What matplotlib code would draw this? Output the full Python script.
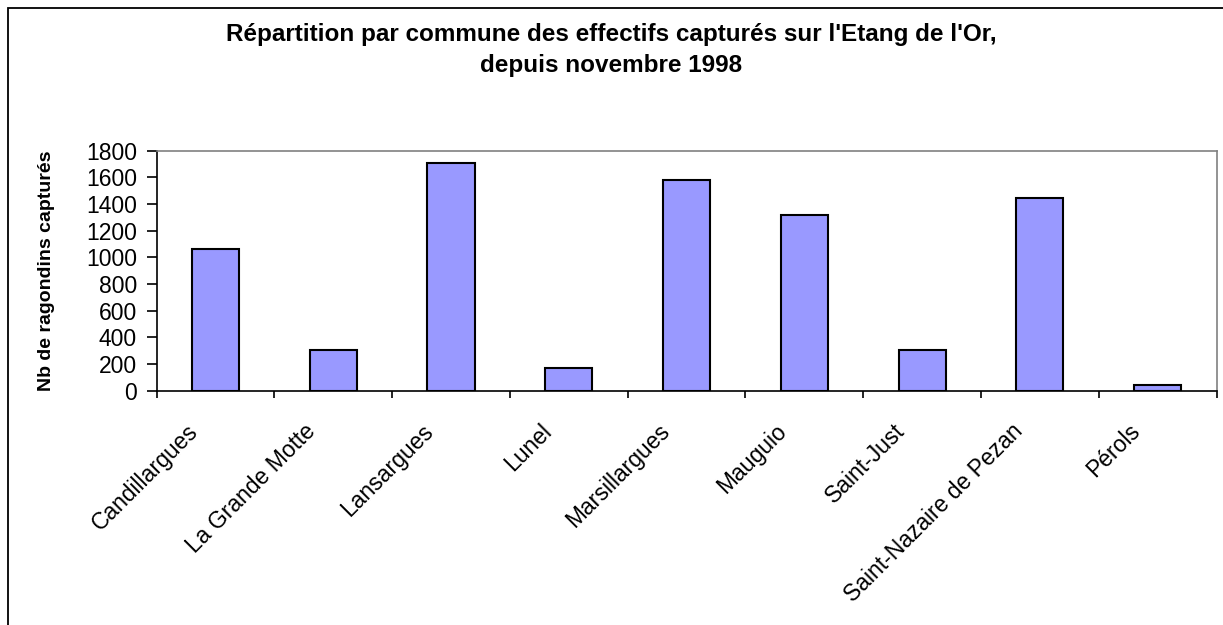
import numpy as np
import matplotlib.pyplot as plt
from matplotlib.patches import Rectangle
from matplotlib.transforms import ScaledTranslation

plt.rcParams['font.family'] = ['Liberation Sans', 'DejaVu Sans']

# Data
communes = ['Candillargues', 'La Grande Motte', 'Lansargues', 'Lunel', 'Marsillargues',
            'Mauguio', 'Saint-Just', 'Saint-Nazaire de Pezan', 'Pérols']
captures = [1060, 305, 1710, 170, 1580, 1320, 305, 1445, 45]
yticks = [0, 200, 400, 600, 800, 1000, 1200, 1400, 1600, 1800]

fig = plt.figure(figsize=(12.23, 6.25), dpi=100)
ax = fig.add_axes([0.128, 0.375, 0.8667, 0.384])

x = np.arange(len(communes))
ax.bar(x, captures, width=0.4, color='#9999FF', edgecolor='black', linewidth=1.5, zorder=3)

ax.set_xlim(-0.5, len(communes) - 0.5)
ax.set_ylim(0, 1800)
ax.set_yticks(yticks)
ax.set_yticklabels([str(v) for v in yticks], fontsize=16.5)

# category ticks on the boundaries, labels at centres
ax.set_xticks(np.arange(-0.5, len(communes) + 0.5, 1.0))
ax.set_xticklabels([])
ax.set_xticks(x, minor=True)
ax.set_xticklabels(communes, minor=True, fontsize=16.5, rotation=45, ha='right',
                   rotation_mode='anchor')
ax.tick_params(axis='x', which='minor', length=0, pad=21)
ax.tick_params(axis='x', which='major', length=5, width=1.2, direction='out')
ax.tick_params(axis='y', length=7, width=1.2, direction='out', pad=7)

# shift the slanted labels a little to the left, like the original
shift = ScaledTranslation(-0.29, 0, fig.dpi_scale_trans)
for lab in ax.get_xticklabels(minor=True):
    lab.set_transform(lab.get_transform() + shift)

for side in ['top', 'right']:
    ax.spines[side].set_color('#808080')
    ax.spines[side].set_linewidth(1.2)
for side in ['left', 'bottom']:
    ax.spines[side].set_color('black')
    ax.spines[side].set_linewidth(1.2)

ax.set_ylabel('Nb de ragondins capturés', fontsize=14, fontweight='bold')
ax.yaxis.set_label_coords(-0.096, 0.5)

fig.text(0.5, 1 - 41 / 625, "Répartition par commune des effectifs capturés sur l'Etang de l'Or,",
         ha='center', va='baseline', fontsize=17.5, fontweight='bold')
fig.text(0.5, 1 - 72 / 625, "depuis novembre 1998",
         ha='center', va='baseline', fontsize=17.5, fontweight='bold')

# outer chart frame (cut by the image on the right and bottom)
fig.patches.append(Rectangle((8 / 1223, -0.1), 1.2, 1.1 - 8 / 625, transform=fig.transFigure,
                             fill=False, edgecolor='black', linewidth=1.3))

fig.savefig('out.png', dpi=100)
